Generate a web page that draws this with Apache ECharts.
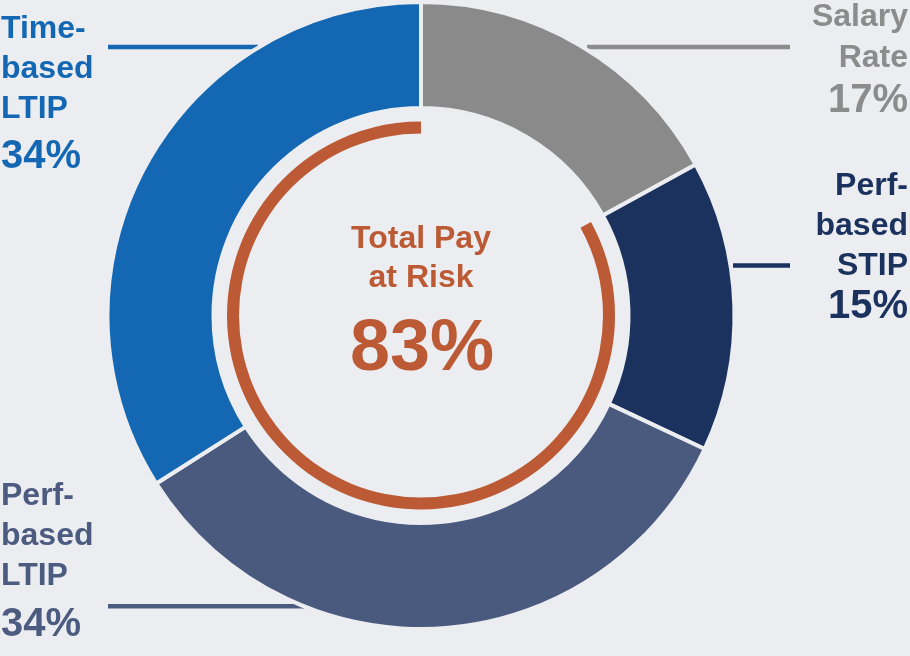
<!DOCTYPE html>
<html>
<head>
<meta charset="utf-8">
<script src="https://cdn.jsdelivr.net/npm/echarts@6/dist/echarts.min.js"></script>
<style>
html,body{margin:0;padding:0;background:#ecedf0;}
#chart{width:910px;height:656px;}
</style>
</head>
<body>
<div id="chart"></div>
<script>
// ---- data ----
const categories = ['Salary Rate', 'Perf-based STIP', 'Perf-based LTIP', 'Time-based LTIP'];
const labelLines = [['Salary', 'Rate'], ['Perf-', 'based', 'STIP'], ['Perf-', 'based', 'LTIP'], ['Time-', 'based', 'LTIP']];
const shares = [17, 15, 34, 34];
const atRiskShare = 83;
const centerTitle = ['Total Pay', 'at Risk'];

// ---- styles / layout ----
const BG = '#ecedf0';
const sliceColors = ['#8a8a8a', '#1b325f', '#4a5a7e', '#1468b3'];
const textColors = ['#8c8c8c', '#1b325f', '#4c5c80', '#1468b3'];
const ORANGE = '#bb5a35';
const FONT = '"Liberation Sans", Arial, Helvetica, sans-serif';
const CX = 421, CY = 315.5;

// label block layout: x, align, y of each name line, y of percent, leader line
const labelLayout = [
  { x: 908, align: 'right', ys: [17, 58], pctY: 100.5, line: [587, 47, 790, 47] },
  { x: 908, align: 'right', ys: [186.3, 226, 266], pctY: 306.7, line: [733, 265.5, 790, 265.5] },
  { x: 1, align: 'left', ys: [496.5, 536.5, 576.5], pctY: 625, line: [108, 606.3, 311, 606.3] },
  { x: 1, align: 'left', ys: [29.5, 69.5, 109.5], pctY: 156.7, line: [108, 47, 258, 47] }
];

const graphics = [];
labelLayout.forEach((L, i) => {
  labelLines[i].forEach((t, j) => {
    graphics.push({
      type: 'text', silent: true,
      style: { text: t, x: L.x, y: L.ys[j], align: L.align, verticalAlign: 'middle',
        font: 'bold 32px ' + FONT, fill: textColors[i] }
    });
  });
  graphics.push({
    type: 'text', silent: true,
    style: { text: shares[i] + '%', x: L.x, y: L.pctY, align: L.align, verticalAlign: 'middle',
      font: 'bold 40px ' + FONT, fill: textColors[i] }
  });
  graphics.push({
    type: 'line', silent: true,
    shape: { x1: L.line[0], y1: L.line[1], x2: L.line[2], y2: L.line[3] },
    style: { stroke: textColors[i], lineWidth: 4.5 }
  });
});
// center title
const centerYs = [239.5, 278.5];
centerTitle.forEach((t, j) => {
  graphics.push({
    type: 'text', silent: true,
    style: { text: t, x: CX, y: centerYs[j], align: 'center', verticalAlign: 'middle',
      font: 'bold 32px ' + FONT, fill: ORANGE }
  });
});
graphics.push({
  type: 'text', silent: true,
  style: { text: atRiskShare + '%', x: CX + 1, y: 350.5, align: 'center', verticalAlign: 'middle',
    font: 'bold 72px ' + FONT, fill: ORANGE }
});

const chart = echarts.init(document.getElementById('chart'), null, { renderer: 'canvas' });
chart.setOption({
  backgroundColor: BG,
  animation: false,
  series: [
    {
      type: 'pie',
      center: [CX, CY],
      radius: [207.5, 313.5],
      startAngle: 90,
      clockwise: true,
      silent: true,
      label: { show: false },
      labelLine: { show: false },
      itemStyle: { borderColor: BG, borderWidth: 4 },
      data: categories.map((c, i) => ({ name: c, value: shares[i], itemStyle: { color: sliceColors[i] } }))
    },
    {
      type: 'pie',
      center: [CX, CY],
      radius: [182, 194],
      startAngle: 90,
      clockwise: true,
      silent: true,
      label: { show: false },
      labelLine: { show: false },
      data: [
        { name: 'Fixed', value: 100 - atRiskShare, itemStyle: { color: 'rgba(0,0,0,0)' } },
        { name: 'Total Pay at Risk', value: atRiskShare, itemStyle: { color: ORANGE } }
      ]
    }
  ],
  graphic: graphics
});
</script>
</body>
</html>
